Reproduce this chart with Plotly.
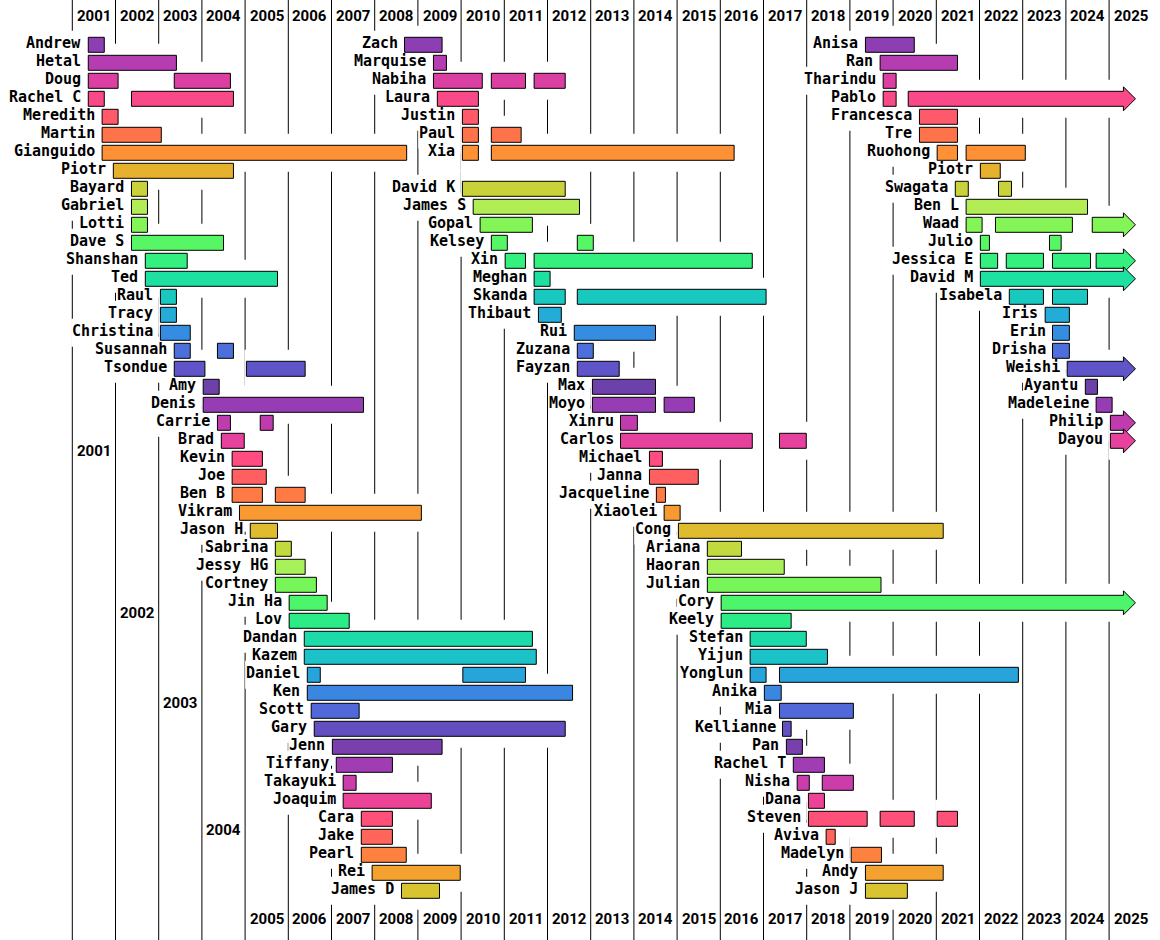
import math
import plotly.graph_objects as go

# --- data -------------------------------------------------------------
NAMES = [
    # first column
    "Andrew", "Hetal", "Doug", "Rachel C", "Meredith", "Martin", "Gianguido",
    "Piotr", "Bayard", "Gabriel", "Lotti", "Dave S", "Shanshan", "Ted", "Raul",
    "Tracy", "Christina", "Susannah", "Tsondue", "Amy", "Denis", "Carrie",
    "Brad", "Kevin", "Joe", "Ben B", "Vikram", "Jason H", "Sabrina",
    "Jessy HG", "Cortney", "Jin Ha", "Lov", "Dandan", "Kazem", "Daniel",
    "Ken", "Scott", "Gary", "Jenn", "Tiffany", "Takayuki", "Joaquim", "Cara",
    "Jake", "Pearl", "Rei", "James D",
    # second column
    "Zach", "Marquise", "Nabiha", "Laura", "Justin", "Paul", "Xia", "David K",
    "James S", "Gopal", "Kelsey", "Xin", "Meghan", "Skanda", "Thibaut", "Rui",
    "Zuzana", "Fayzan", "Max", "Moyo", "Xinru", "Carlos", "Michael", "Janna",
    "Jacqueline", "Xiaolei", "Cong", "Ariana", "Haoran", "Julian", "Cory",
    "Keely", "Stefan", "Yijun", "Yonglun", "Anika", "Mia", "Kellianne", "Pan",
    "Rachel T", "Nisha", "Dana", "Steven", "Aviva", "Madelyn", "Andy",
    "Jason J",
    # third column
    "Anisa", "Ran", "Tharindu", "Pablo", "Francesca", "Tre", "Ruohong",
    "Piotr", "Swagata", "Ben L", "Waad", "Julio", "Jessica E", "David M",
    "Isabela", "Iris", "Erin", "Drisha", "Weishi", "Ayantu", "Madeleine",
    "Philip", "Dayou",
]

ROWS = (list(range(0, 48))
        + [0, 1, 2, 3, 4, 5, 6] + list(range(8, 48))
        + list(range(0, 23)))

# [start, end]; end None = still in the group (arrow)
SPANS = [
    [[2001.37, 2001.74]],
    [[2001.37, 2003.41]],
    [[2001.37, 2002.06], [2003.36, 2004.66]],
    [[2001.37, 2001.74], [2002.37, 2004.73]],
    [[2001.69, 2002.06]],
    [[2001.69, 2003.06]],
    [[2001.69, 2008.74]],
    [[2001.95, 2004.73]],
    [[2002.37, 2002.74]],
    [[2002.37, 2002.74]],
    [[2002.37, 2002.74]],
    [[2002.37, 2004.50]],
    [[2002.69, 2003.66]],
    [[2002.69, 2005.75]],
    [[2003.04, 2003.41]],
    [[2003.04, 2003.41]],
    [[2003.04, 2003.73]],
    [[2003.36, 2003.73], [2004.36, 2004.73]],
    [[2003.36, 2004.07], [2005.03, 2006.39]],
    [[2004.03, 2004.40]],
    [[2004.03, 2007.74]],
    [[2004.36, 2004.66], [2005.35, 2005.65]],
    [[2004.45, 2004.98]],
    [[2004.70, 2005.40]],
    [[2004.70, 2005.49]],
    [[2004.70, 2005.40], [2005.70, 2006.39]],
    [[2004.87, 2009.08]],
    [[2005.12, 2005.75]],
    [[2005.70, 2006.07]],
    [[2005.70, 2006.39]],
    [[2005.70, 2006.65]],
    [[2006.02, 2006.90]],
    [[2006.02, 2007.41]],
    [[2006.37, 2011.65]],
    [[2006.37, 2011.74]],
    [[2006.44, 2006.74], [2010.04, 2011.49]],
    [[2006.44, 2012.58]],
    [[2006.53, 2007.64]],
    [[2006.60, 2012.41]],
    [[2007.02, 2009.56]],
    [[2007.11, 2008.41]],
    [[2007.27, 2007.57]],
    [[2007.27, 2009.31]],
    [[2007.69, 2008.41]],
    [[2007.69, 2008.41]],
    [[2007.69, 2008.73]],
    [[2007.94, 2009.98]],
    [[2008.62, 2009.50]],
    # second column
    [[2008.69, 2009.56]],
    [[2009.36, 2009.66]],
    [[2009.36, 2010.49], [2010.70, 2011.49], [2011.69, 2012.41]],
    [[2009.45, 2010.40]],
    [[2010.03, 2010.40]],
    [[2010.03, 2010.40], [2010.70, 2011.39]],
    [[2010.03, 2010.40], [2010.70, 2016.32]],
    [[2010.03, 2012.41]],
    [[2010.28, 2012.74]],
    [[2010.44, 2011.65]],
    [[2010.70, 2011.07], [2012.69, 2013.06]],
    [[2011.02, 2011.49], [2011.69, 2016.74]],
    [[2011.69, 2012.06]],
    [[2011.69, 2012.41], [2012.69, 2017.06]],
    [[2011.79, 2012.32]],
    [[2012.62, 2014.50]],
    [[2012.69, 2013.06]],
    [[2012.69, 2013.66]],
    [[2013.04, 2014.50]],
    [[2013.04, 2014.50], [2014.70, 2015.40]],
    [[2013.69, 2014.08]],
    [[2013.69, 2016.74], [2017.37, 2017.99]],
    [[2014.36, 2014.66]],
    [[2014.36, 2015.49]],
    [[2014.52, 2014.73]],
    [[2014.70, 2015.07]],
    [[2015.03, 2021.16]],
    [[2015.70, 2016.49]],
    [[2015.70, 2017.48]],
    [[2015.70, 2019.72]],
    [[2016.02, None]],
    [[2016.02, 2017.64]],
    [[2016.69, 2017.99]],
    [[2016.69, 2018.48]],
    [[2016.69, 2017.06], [2017.37, 2022.90]],
    [[2017.02, 2017.41]],
    [[2017.37, 2019.08]],
    [[2017.44, 2017.64]],
    [[2017.53, 2017.90]],
    [[2017.69, 2018.41]],
    [[2017.78, 2018.06], [2018.36, 2019.08]],
    [[2018.04, 2018.41]],
    [[2018.04, 2019.40], [2019.70, 2020.49], [2021.02, 2021.49]],
    [[2018.45, 2018.66]],
    [[2019.03, 2019.73]],
    [[2019.36, 2021.16]],
    [[2019.36, 2020.33]],
    # third column
    [[2019.36, 2020.49]],
    [[2019.70, 2021.49]],
    [[2019.77, 2020.07]],
    [[2019.77, 2020.07], [2020.35, None]],
    [[2020.61, 2021.49]],
    [[2020.61, 2021.49]],
    [[2021.02, 2021.49], [2021.69, 2023.06]],
    [[2022.02, 2022.48]],
    [[2021.44, 2021.74], [2022.44, 2022.74]],
    [[2021.69, 2024.50]],
    [[2021.69, 2022.06], [2022.37, 2024.15], [2024.61, None]],
    [[2022.02, 2022.23], [2023.62, 2023.89]],
    [[2022.02, 2022.42], [2022.62, 2023.48], [2023.69, 2024.57], [2024.70, None]],
    [[2022.02, None]],
    [[2022.69, 2023.48], [2023.69, 2024.50]],
    [[2023.52, 2024.08]],
    [[2023.69, 2024.08]],
    [[2023.69, 2024.08]],
    [[2024.03, None]],
    [[2024.45, 2024.73]],
    [[2024.70, 2025.07]],
    [[2025.03, None]],
    [[2025.03, None]],
]

NOW = 2025.61  # tip of the "still here" arrows

TOP_YEARS = list(range(2001, 2026))
BOTTOM_YEARS = list(range(2005, 2026))
SIDE_YEARS = [2001, 2002, 2003, 2004]
SIDE_YEAR_ROWS = [22.56, 31.57, 36.57, 43.6]
TOP_ROW = -1.59
BOTTOM_ROW = 48.58

# --- geometry (pixels -> data units) ----------------------------------
W, H = 1160, 940
PX_YEAR = 43.2
PX_ROW = 18.0
X_MIN = 2001 - 72.3 / PX_YEAR
X_MAX = X_MIN + W / PX_YEAR
Y_MIN = -44.8 / PX_ROW
Y_MAX = Y_MIN + H / PX_ROW

NAME_SIZE = 15
NAME_FONT = dict(family="DejaVu Sans Mono", size=NAME_SIZE, color="black", weight="bold")
YEAR_FONT = dict(family="Roboto", size=15, color="black", weight="bold")


def rainbow(t):
    # d3 interpolateRainbow (cubehelix)
    t = t % 1.0
    ts = abs(t - 0.5)
    h = math.radians(360 * t - 100 + 120)
    s = 1.5 - 1.5 * ts
    l = 0.8 - 0.9 * ts
    a = s * l * (1 - l)
    c, sn = math.cos(h), math.sin(h)
    r = l + a * (-0.14861 * c + 1.78277 * sn)
    g = l + a * (-0.29227 * c - 0.90649 * sn)
    b = l + a * (1.97294 * c)
    clamp = lambda v: max(0, min(255, round(255 * v)))
    return "rgb(%d,%d,%d)" % (clamp(r), clamp(g), clamp(b))


def row_color(row):
    return rainbow((row + 0.75) / 19.75)


fig = go.Figure()
shapes = []

# year lines
for yr in TOP_YEARS:
    shapes.append(dict(type="line", xref="x", yref="paper", x0=yr, x1=yr, y0=0, y1=1,
                       line=dict(color="black", width=1), layer="below"))

bar_y, bar_base, bar_len, bar_col = [], [], [], []
arrows = []
annotations = []

for name, row, spans in zip(NAMES, ROWS, SPANS):
    col = row_color(row)
    for s, e in spans:
        end = NOW if e is None else e
        # white halo that hides the year lines around each bar
        shapes.append(dict(type="rect", xref="x", yref="y",
                           x0=s - 2 / PX_YEAR, x1=end + 2 / PX_YEAR,
                           y0=row - 19 / PX_ROW, y1=row + 19 / PX_ROW,
                           fillcolor="white", line=dict(width=0), layer="below"))
        if e is None:
            arrows.append((s, row, col))
        else:
            bar_y.append(row)
            bar_base.append(s)
            bar_len.append(e - s)
            bar_col.append(col)

    first = spans[0][0]
    text_w = len(name) * 0.602 * NAME_SIZE
    right = first - 7 / PX_YEAR
    shapes.append(dict(type="rect", xref="x", yref="y",
                       x0=right - (text_w + 1) / PX_YEAR, x1=right + 1 / PX_YEAR,
                       y0=row - 14 / PX_ROW, y1=row + 14 / PX_ROW,
                       fillcolor="white", line=dict(width=0), layer="below"))
    annotations.append(dict(x=first, y=row, xref="x", yref="y", text=name,
                            showarrow=False, xanchor="right", yanchor="middle",
                            xshift=-5, yshift=1.5, font=NAME_FONT))

fig.add_trace(go.Bar(
    orientation="h", y=bar_y, x=bar_len, base=bar_base, width=15 / PX_ROW,
    marker=dict(color=bar_col, line=dict(color="black", width=1)),
    hoverinfo="skip",
))

half_bar = 7.5 / PX_ROW
half_head = 12 / PX_ROW
head_x = NOW - 12 / PX_YEAR
for s, row, col in arrows:
    fig.add_trace(go.Scatter(
        x=[s, head_x, head_x, NOW, head_x, head_x, s, s],
        y=[row - half_bar, row - half_bar, row - half_head, row,
           row + half_head, row + half_bar, row + half_bar, row - half_bar],
        mode="lines", fill="toself", fillcolor=col,
        line=dict(color="black", width=1), hoverinfo="skip",
    ))

for yr in TOP_YEARS:
    annotations.append(dict(x=yr + 0.5, y=TOP_ROW, xref="x", yref="y", text=str(yr),
                            showarrow=False, font=YEAR_FONT))
for yr in BOTTOM_YEARS:
    annotations.append(dict(x=yr + 0.5, y=BOTTOM_ROW, xref="x", yref="y", text=str(yr),
                            showarrow=False, font=YEAR_FONT))
for yr, r in zip(SIDE_YEARS, SIDE_YEAR_ROWS):
    annotations.append(dict(x=yr + 0.5, y=r, xref="x", yref="y", text=str(yr),
                            showarrow=False, font=YEAR_FONT))

fig.update_layout(
    width=W, height=H,
    margin=dict(l=0, r=0, t=0, b=0),
    paper_bgcolor="white", plot_bgcolor="white",
    showlegend=False, barmode="overlay",
    xaxis=dict(range=[X_MIN, X_MAX], visible=False, fixedrange=True),
    yaxis=dict(range=[Y_MAX, Y_MIN], visible=False, fixedrange=True),
    shapes=shapes,
    annotations=annotations,
)

fig.write_html("out.html", config={"displayModeBar": False},
               post_script="document.body.style.margin='0';")
